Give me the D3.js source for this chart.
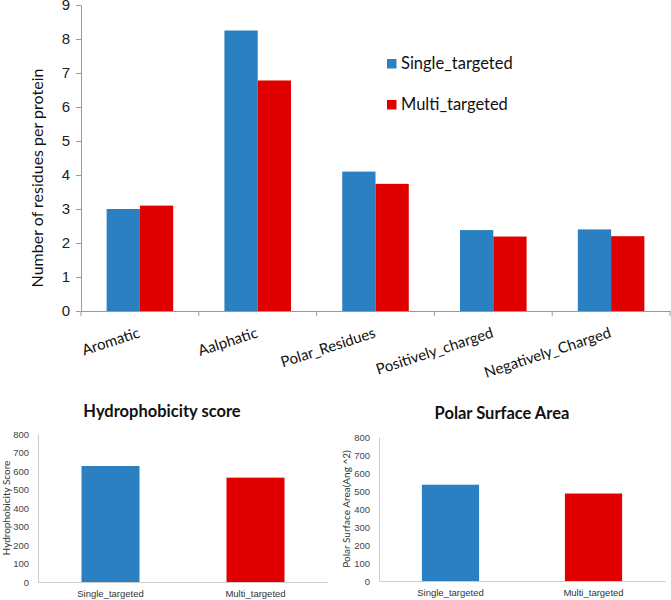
<!DOCTYPE html>
<html><head><meta charset="utf-8">
<script src="https://cdn.jsdelivr.net/npm/d3@7"></script>
<style>body{margin:0;background:#fff}svg{display:block;font-family:Lato,"Open Sans",sans-serif}</style>
</head><body><svg id="c" width="671" height="600"></svg>
<script>
const categories = ["Aromatic","Aalphatic","Polar_Residues","Positively_charged","Negatively_Charged"];
const seriesNames = ["Single_targeted","Multi_targeted"];
const singleValues = [3.0, 8.25, 4.1, 2.38, 2.4];
const multiValues = [3.1, 6.78, 3.74, 2.19, 2.2];
const topTicks = [0,1,2,3,4,5,6,7,8,9];
const hydroValues = [627, 564];
const psaValues = [535, 486];
const smallTicks = [0,100,200,300,400,500,600,700,800];
const colors = ["#2A80C0", "#E00000"];

const svg = d3.select("#c");

// ---- main chart ----
const T = {l:81, r:670, t:5, b:311};
const x0 = d3.scaleBand().domain(categories).range([T.l, T.r]).paddingInner(0.435).paddingOuter(0.2175);
const x1 = d3.scaleBand().domain(seriesNames).range([0, x0.bandwidth()]);
const y = d3.scaleLinear().domain([0,9]).range([T.b, T.t]);
const xb = d3.scaleBand().domain(categories).range([T.l, T.r]);

const mainG = svg.append("g");
const rows = categories.map((c,i)=>({c, vals:[singleValues[i], multiValues[i]]}));
mainG.selectAll("g.grp").data(rows).join("g").attr("class","grp")
  .attr("transform", d=>`translate(${x0(d.c)},0)`)
  .selectAll("rect").data(d=>d.vals.map((v,j)=>({v, s:seriesNames[j], j})))
  .join("rect")
  .attr("x", d=>x1(d.s)).attr("width", x1.bandwidth())
  .attr("y", d=>y(d.v)).attr("height", d=>y(0)-y(d.v))
  .attr("fill", d=>colors[d.j]);

const ya = mainG.append("g").attr("transform",`translate(${T.l},0)`)
  .call(d3.axisLeft(y).tickValues(topTicks).tickSize(5).tickSizeOuter(0).tickFormat(d3.format("d")));
ya.select(".domain").attr("stroke","#999");
ya.selectAll(".tick line").attr("stroke","#999");
ya.selectAll(".tick text").attr("font-size",15).attr("fill","#222").attr("x",-11);

const xa = mainG.append("g").attr("transform",`translate(0,${T.b})`)
  .call(d3.axisBottom(xb).tickSize(0).tickSizeOuter(0));
xa.select(".domain").attr("stroke","#999");
xa.selectAll(".tick text").remove();
xa.selectAll(".tick line").remove();
mainG.selectAll("line.bt").data(categories.concat(["_end"])).join("line").attr("class","bt")
  .attr("x1", (d,i)=> i<categories.length ? xb(d) : T.r)
  .attr("x2", (d,i)=> i<categories.length ? xb(d) : T.r)
  .attr("y1", T.b).attr("y2", T.b+5).attr("stroke","#999");
mainG.selectAll("text.xl").data(categories).join("text").attr("class","xl")
  .attr("transform", d=>`translate(${xb(d)+xb.bandwidth()/2+1},${T.b+26}) rotate(-18)`)
  .attr("text-anchor","end").attr("font-size",15).attr("fill","#111").text(d=>d);

mainG.append("text").attr("transform",`translate(43,178) rotate(-90)`)
  .attr("text-anchor","middle").attr("font-size",16).attr("fill","#111")
  .text("Number of residues per protein");

const leg = mainG.selectAll("g.leg").data(seriesNames).join("g").attr("class","leg")
  .attr("transform",(d,i)=>`translate(387,${59+i*41})`);
leg.append("rect").attr("width",9.5).attr("height",9.5).attr("fill",(d,i)=>colors[i]);
leg.append("text").attr("x",14).attr("y",10).attr("font-size",16.5).attr("fill","#111").text(d=>d);

// ---- small charts ----
function small(opts){
  const g = svg.append("g");
  const xs = d3.scaleBand().domain(seriesNames).range([opts.l, opts.r]).padding(0.6).paddingOuter(0.3);
  const ys = d3.scaleLinear().domain([0,800]).range([opts.b, opts.t]);
  g.selectAll("rect").data(opts.vals).join("rect")
    .attr("x",(d,i)=>xs(seriesNames[i])).attr("width",xs.bandwidth())
    .attr("y",d=>ys(d)).attr("height",d=>ys(0)-ys(d)).attr("fill",(d,i)=>colors[i]);
  const ay = g.append("g").attr("transform",`translate(${opts.l},0)`)
    .call(d3.axisLeft(ys).tickValues(smallTicks).tickSize(0).tickSizeOuter(0));
  ay.select(".domain").attr("stroke","#ccc");
  ay.selectAll(".tick text").attr("font-size",9.5).attr("fill","#444").attr("x",-9);
  const ax = g.append("g").attr("transform",`translate(0,${opts.b})`)
    .call(d3.axisBottom(xs).tickSize(0).tickSizeOuter(0));
  ax.select(".domain").attr("stroke","#ccc");
  ax.selectAll(".tick text").attr("font-size",9.5).attr("fill","#333").attr("dy",0).attr("y",15);
  g.append("text").attr("x",opts.tx).attr("y",opts.ty).attr("text-anchor","middle")
    .attr("font-size",16.5).attr("font-weight","bold").attr("fill","#111").text(opts.title);
  g.append("text").attr("transform",`translate(${opts.lx},${(opts.t+opts.b)/2}) rotate(-90)`)
    .attr("text-anchor","middle").attr("font-size",10).attr("fill","#333").text(opts.ylabel);
}
small({l:38, r:328, t:434, b:582, vals:hydroValues, title:"Hydrophobicity score", tx:162, ty:417, lx:10, ylabel:"Hydrophobicity Score"});
small({l:379, r:665, t:437, b:581, vals:psaValues, title:"Polar Surface Area", tx:502, ty:419, lx:350, ylabel:"Polar Surface Area(Ang ^2)"});
</script></body></html>
